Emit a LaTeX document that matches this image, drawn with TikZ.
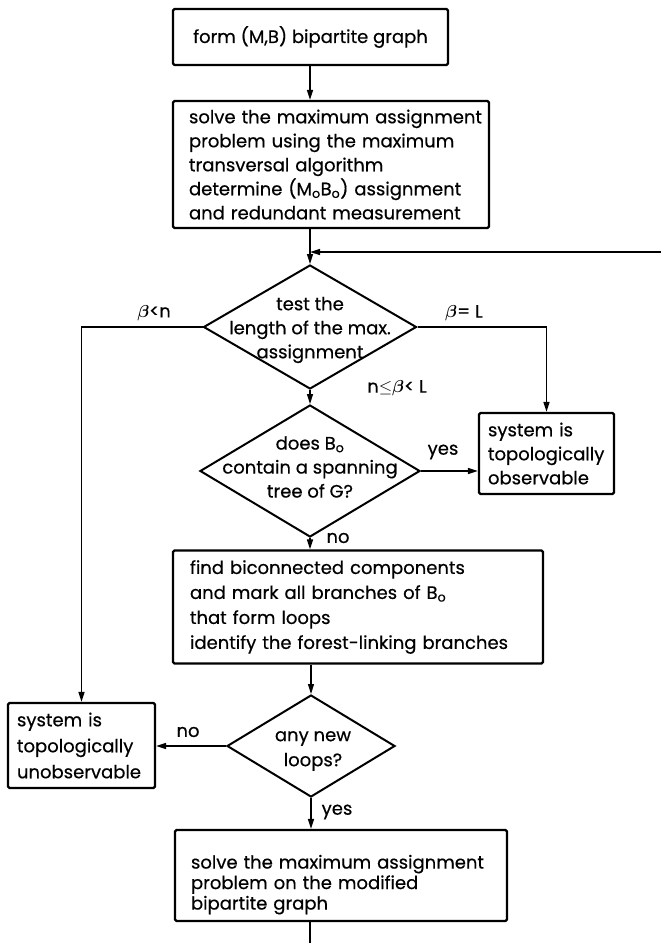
\documentclass[tikz,border=0pt]{standalone}
\usepackage{fontspec}
\setmainfont{Poppins}[FakeBold=0.5]
\usetikzlibrary{shapes.geometric,arrows.meta}
\newcommand{\indentline}{\hspace*{14pt}}
\newcommand{\bbeta}{{\boldmath$\beta$}}
\begin{document}
\begin{tikzpicture}[x=1pt,y=-1pt,
  txt/.style={font=\fontsize{18}{24}\selectfont},
  procbox/.style={draw,line width=2.2pt,rounded corners=1.5pt,inner ysep=0pt,align=left,txt},
  decision/.style={draw,diamond,line width=2pt,inner sep=0pt},
  dtext/.style={align=center,inner sep=0pt,txt},
  lbl/.style={inner sep=0pt,txt},
  flow/.style={line width=1.5pt,-{Triangle[length=10pt,width=6pt]}},
  plain/.style={line width=1.5pt}]
\useasboundingbox (0,0) rectangle (661,943);
\fill[white] (0,0) rectangle (661,943);

% process boxes
\node[procbox,minimum width=275,minimum height=56,align=center] (b1) at (310.5,37)
  {form (M,B) bipartite graph};
\node[procbox,text width=312,inner xsep=2,minimum height=127] (b2) at (331,164.5)
  {\indentline solve the maximum assignment\\\indentline problem using the maximum\\\indentline transversal algorithm\\\indentline determine (M\textsubscript{o}B\textsubscript{o}) assignment\\\indentline and redundant measurement};
\node[procbox,text width=336,inner xsep=17,minimum height=113,
  font=\fontsize{18}{25}\selectfont] (b3) at (358,607)
  {find biconnected components\\and mark all branches of B\textsubscript{o}\\that form loops\\identify the forest-linking branches};
% the tall strut on the first line lowers the text inside the frame
\node[procbox,text width=300,inner xsep=16,minimum height=91,
  font=\fontsize{18}{20.5}\selectfont] (b4) at (341,875.5)
  {\rule{0pt}{32pt}solve the maximum assignment\\problem on the modified\\bipartite graph};
\node[procbox,text width=117,inner xsep=9,minimum height=81] (obs) at (546.5,453.5)
  {system is\\topologically\\observable};
\node[procbox,text width=129,inner xsep=9,minimum height=85,
  font=\fontsize{18}{26}\selectfont] (unobs) at (81.5,745.5)
  {system is\\topologically\\unobservable};

% decisions
\node[decision,minimum width=213,minimum height=124] (d1) at (310,327) {};
\node[dtext] (d1t) at (310,330) {test the\\length of the max.\\assignment};
\node[decision,minimum width=220,minimum height=132] (d2) at (310,471) {};
\node[dtext] (d2t) at (310,467) {does B\textsubscript{o}\\contain a spanning\\tree of G?};
\node[decision,minimum width=168,minimum height=102] (d3) at (311,746) {};
\node[dtext,font=\fontsize{18}{25}\selectfont] (d3t) at (313,751) {any new\\loops?};

% loop ends
\coordinate (fbin) at (661,252);
\coordinate (fbj) at (310,252);
\coordinate (tail) at (310,943);

% connectors
\draw[flow] (b1.south -| fbj) -- (b2.north -| fbj);
\draw[flow] (b2.south -| fbj) -- (d1.north);
\draw[flow] (fbin) -- (fbj);
\draw[flow] (d1.west) -| (unobs.north);
\draw[flow] (d1.east) -| (obs.north);
\draw[flow] (d1.south) -- (d2.north);
\draw[flow] (d2.east) -- (d2.east -| obs.west);
\draw[flow] (d2.south) -- (d2.south |- b3.north);
\draw[flow] (b3.south -| d3.north) -- (d3.north);
\draw[flow] (d3.west) -- (d3.west -| unobs.east);
\draw[flow] (d3.south) -- (d3.south |- b4.north);
\draw[plain] (tail |- b4.south) -- (tail);

% branch labels
\node[lbl] (lbn) at (154,313) {\bbeta<n};
\node[lbl] (lbl) at (464,313) {\bbeta= L};
\node[lbl] (lmid) at (397,388) {n$\leq$\bbeta< L};
\node[lbl] (lyes1) at (443,452) {yes};
\node[lbl] (lno1) at (338,538) {no};
\node[lbl] (lno2) at (188,732) {no};
\node[lbl] (lyes2) at (337,812) {yes};
\end{tikzpicture}
\end{document}
